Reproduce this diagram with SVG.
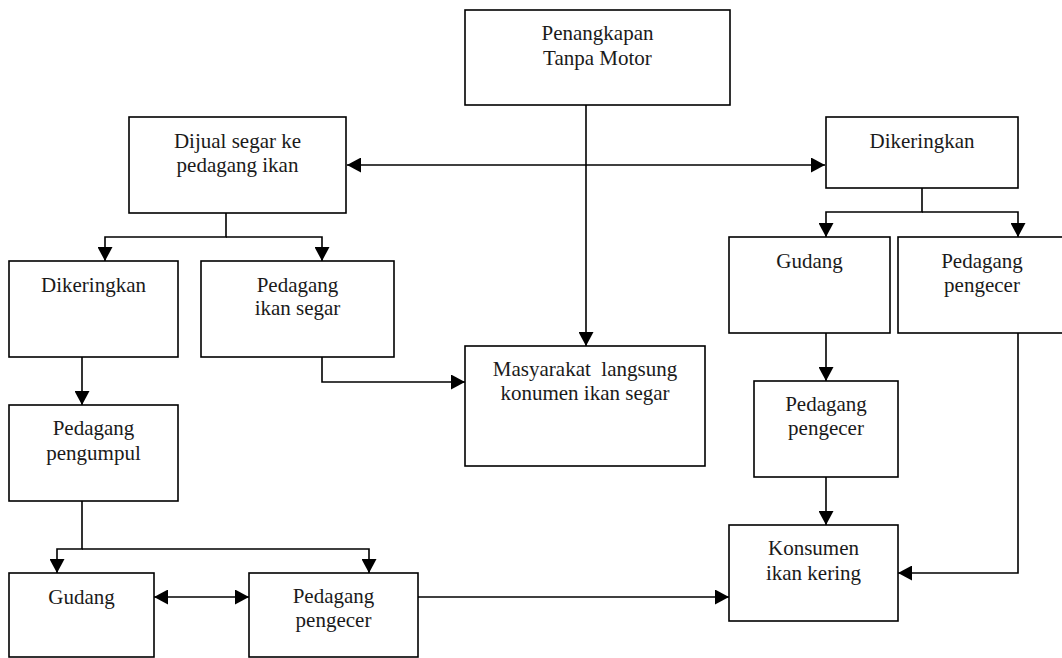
<svg xmlns="http://www.w3.org/2000/svg" width="1062" height="658" viewBox="0 0 1062 658">
  <defs>
    <marker id="arrow" markerUnits="userSpaceOnUse" markerWidth="14" markerHeight="15" refX="14" refY="7.5" orient="auto-start-reverse">
      <path d="M0,0 L14,7.5 L0,15 Z" fill="#000000"/>
    </marker>
  </defs>

  <rect width="1062" height="658" fill="#ffffff"/>

  <!-- connectors: plain black lines, arrowheads from the shared marker -->
  <g id="connectors" fill="none" stroke="#000000" stroke-width="1.6">
    <path d="M586,105 V346" marker-end="url(#arrow)"/>
    <path d="M347,165 H825" marker-start="url(#arrow)" marker-end="url(#arrow)"/>
    <path d="M226,213 V237 H105 V261" marker-end="url(#arrow)"/>
    <path d="M226,237 H322 V261" marker-end="url(#arrow)"/>
    <path d="M922,188 V212 H826 V237" marker-end="url(#arrow)"/>
    <path d="M922,212 H1018 V237" marker-end="url(#arrow)"/>
    <path d="M82,357 V405" marker-end="url(#arrow)"/>
    <path d="M322,357 V382 H465" marker-end="url(#arrow)"/>
    <path d="M82,501 V549 H57 V573" marker-end="url(#arrow)"/>
    <path d="M82,549 H369 V573" marker-end="url(#arrow)"/>
    <path d="M154,597 H249" marker-start="url(#arrow)" marker-end="url(#arrow)"/>
    <path d="M418,597 H729" marker-end="url(#arrow)"/>
    <path d="M826,333 V381" marker-end="url(#arrow)"/>
    <path d="M826,477 V525" marker-end="url(#arrow)"/>
    <path d="M1018,333 V573 H898" marker-end="url(#arrow)"/>
  </g>

  <!-- nodes: white boxes with centred serif labels -->
  <g fill="#ffffff" stroke="#000000" stroke-width="1.6">
    <g id="penangkapan"><rect x="465" y="10" width="265" height="95"/></g>
    <g id="dijual-segar"><rect x="129" y="117" width="217" height="96"/></g>
    <g id="dikeringkan-kanan"><rect x="826" y="117" width="192" height="71"/></g>
    <g id="dikeringkan-kiri"><rect x="9" y="261" width="169" height="96"/></g>
    <g id="pedagang-ikan-segar"><rect x="201" y="261" width="193" height="96"/></g>
    <g id="masyarakat"><rect x="465" y="346" width="240" height="120"/></g>
    <g id="gudang-kanan"><rect x="729" y="237" width="161" height="96"/></g>
    <g id="pengecer-kanan"><rect x="898" y="237" width="170" height="96"/></g>
    <g id="pengecer-tengah"><rect x="754" y="381" width="144" height="96"/></g>
    <g id="pedagang-pengumpul"><rect x="9" y="405" width="169" height="96"/></g>
    <g id="konsumen-ikan-kering"><rect x="729" y="525" width="169" height="96"/></g>
    <g id="gudang-kiri"><rect x="9" y="573" width="145" height="84"/></g>
    <g id="pengecer-bawah"><rect x="249" y="573" width="169" height="84"/></g>
  </g>

  <g id="labels" font-family="Liberation Serif" font-size="21" fill="#1a1a1a" text-anchor="middle">
    <text x="597.5" y="40">Penangkapan</text>
    <text x="597.5" y="65">Tanpa Motor</text>
    <text x="237.5" y="148">Dijual segar ke</text>
    <text x="237.5" y="172">pedagang ikan</text>
    <text x="922" y="148">Dikeringkan</text>
    <text x="93.5" y="292">Dikeringkan</text>
    <text x="297.5" y="292">Pedagang</text>
    <text x="297.5" y="315">ikan segar</text>
    <text x="585" y="376" xml:space="preserve">Masyarakat  langsung</text>
    <text x="585" y="400">konumen ikan segar</text>
    <text x="809.5" y="268">Gudang</text>
    <text x="982" y="268">Pedagang</text>
    <text x="982" y="292">pengecer</text>
    <text x="826" y="411">Pedagang</text>
    <text x="826" y="435">pengecer</text>
    <text x="93.5" y="435">Pedagang</text>
    <text x="93.5" y="460">pengumpul</text>
    <text x="813.5" y="555">Konsumen</text>
    <text x="813.5" y="580">ikan kering</text>
    <text x="81.5" y="604">Gudang</text>
    <text x="333.5" y="603">Pedagang</text>
    <text x="333.5" y="627">pengecer</text>
  </g>
</svg>
